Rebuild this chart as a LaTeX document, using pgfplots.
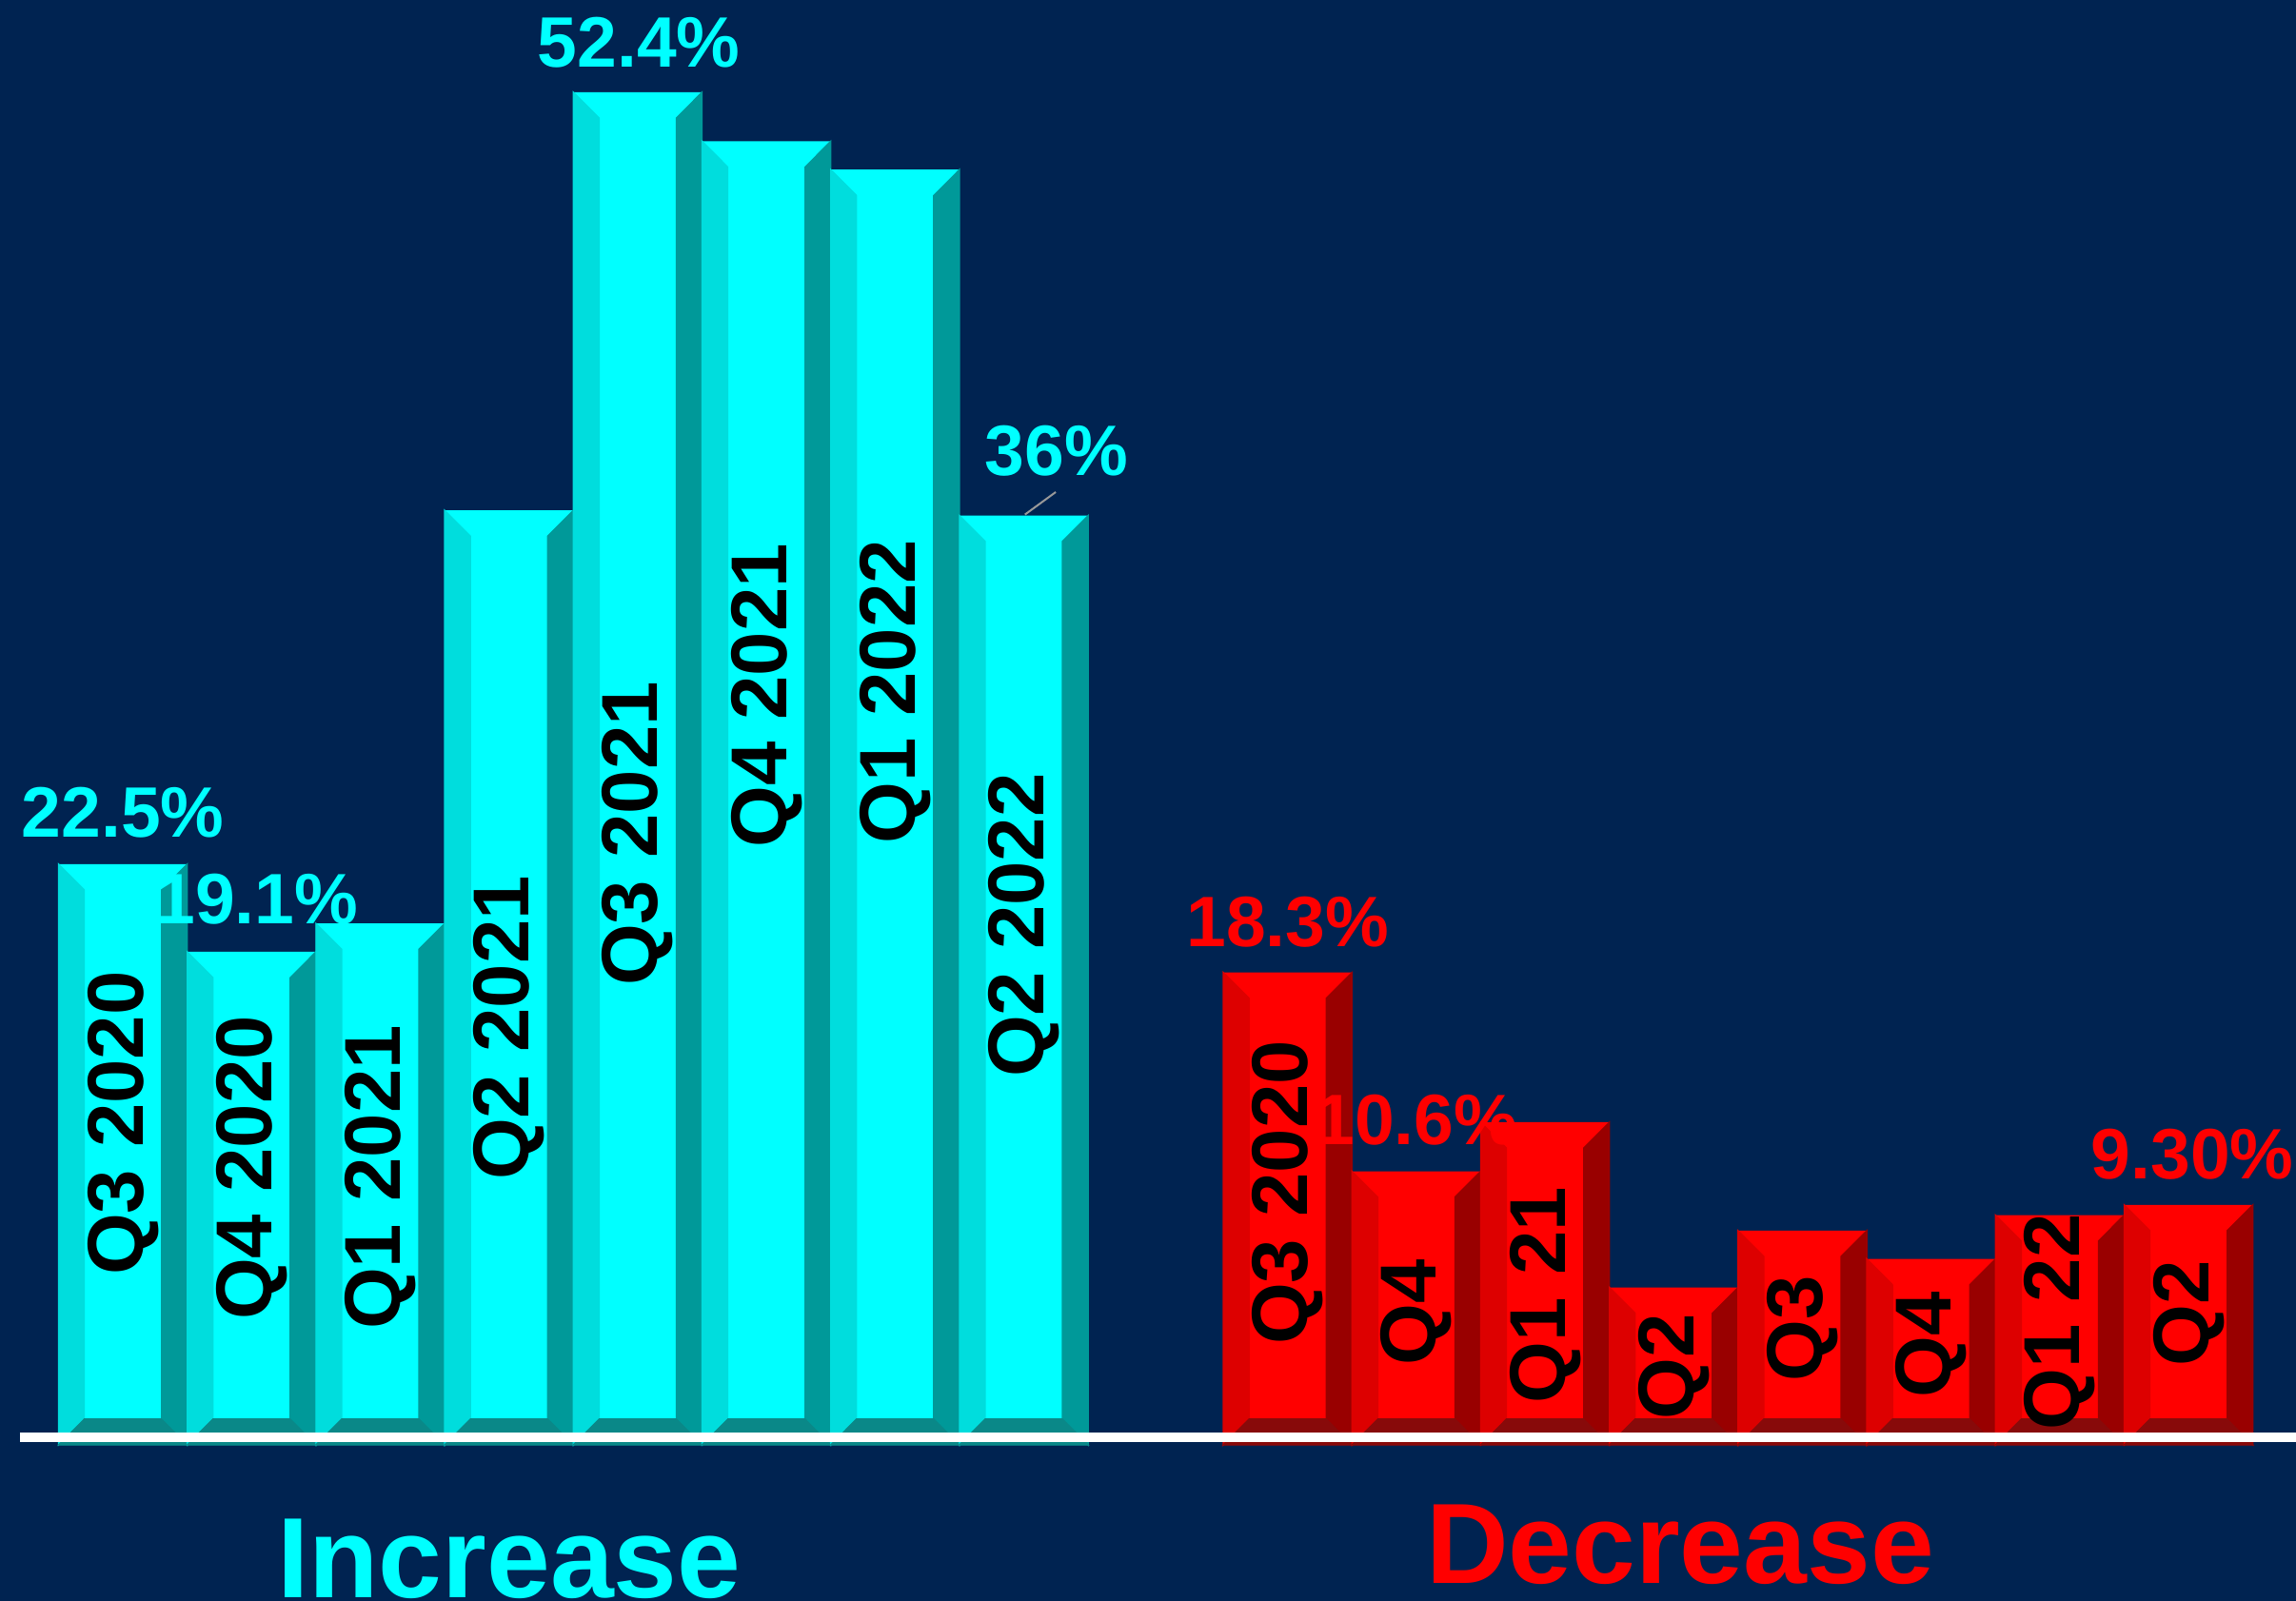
\documentclass[border=0pt]{standalone}
\usepackage{pgfplots}
\pgfplotsset{compat=1.18}
\usepackage{pgfplotstable}
\usepackage{fontspec}
\setmainfont{Liberation Sans}
\definecolor{bgblue}{RGB}{0,35,81}
\definecolor{cyF}{RGB}{0,255,255}
\definecolor{cyL}{RGB}{0,221,221}
\definecolor{cyR}{RGB}{0,153,153}
\definecolor{cyB}{RGB}{10,136,136}
\definecolor{rdF}{RGB}{255,0,0}
\definecolor{rdL}{RGB}{221,0,0}
\definecolor{rdR}{RGB}{153,0,0}
\definecolor{rdB}{RGB}{136,10,10}

\pgfdeclareplotmark{nothing}{}

\pgfplotstableread{
x y
0 22.5
1 19.1
2 20.2
3 36.2
4 52.4
5 50.5
6 49.4
7 36.0
}\inctable

\pgfplotstableread{
x y
9.05 18.3
10.05 10.6
11.05 12.5
12.05 6.1
13.05 8.3
14.05 7.2
15.05 8.9
16.05 9.3
}\dectable

\pgfplotsset{
  bevel/.style n args={3}{
    scatter, only marks, mark=nothing, point meta=y,
    visualization depends on={rawy \as \bv},
    scatter/@pre marker code/.code={%
      \pgfmathsetmacro\hA{-\bv*8.136}%
      \pgfmathsetmacro\hB{\hA+8.136}%
      \fill[#1] (-20.28pt,0pt) -- (-12.168pt,-8.136pt) -- (-12.168pt,\hB pt) -- (-20.28pt,\hA pt) -- cycle;
      \fill[#2] (20.28pt,0pt) -- (12.168pt,-8.136pt) -- (12.168pt,\hB pt) -- (20.28pt,\hA pt) -- cycle;
      \fill[#3] (-20.28pt,\hA pt) -- (-12.168pt,\hB pt) -- (12.168pt,\hB pt) -- (20.28pt,\hA pt) -- cycle;
      \scope
    },
    scatter/@post marker code/.code={\endscope},
  }
}

\newcommand\inlab[3]{\node[rotate=90, inner sep=0pt, text=black, font=\fontsize{25}{30}\selectfont\bfseries] at (axis cs:#1,#2) {#3};}
\newcommand\vlab[4]{\node[anchor=base, inner sep=0pt, text=#4, font=\fontsize{22.5}{27}\selectfont\bfseries] at (axis cs:#1,#2) {#3};}
\newcommand\biglab[4]{\node[anchor=base, inner sep=0pt, text=#4, font=\fontsize{36}{40}\selectfont\bfseries] at (axis cs:#1,#2) {#3};}

\begin{document}
\begin{tikzpicture}
\begin{axis}[
  set layers,
  x=40.56pt, y=8.136pt,
  xmin=-0.955, xmax=16.885, ymin=-6.047, ymax=55.973,
  axis lines=box, axis line style={draw=none},
  xtick=\empty, ytick=\empty,
  axis background/.style={fill=bgblue},
  clip=false,
]
\addplot[ybar, bar width=1, bar shift=0, fill=cyF, draw=none] table[x=x,y=y]{\inctable};
\addplot[bevel={cyL}{cyR}{cyB}] table[x=x,y=y]{\inctable};
\addplot[ybar, bar width=1, bar shift=0, fill=rdF, draw=none] table[x=x,y=y]{\dectable};
\addplot[bevel={rdL}{rdR}{rdB}] table[x=x,y=y]{\dectable};

\addplot[on layer=axis foreground, white, line width=3pt] coordinates {(-0.80,0.295) (16.885,0.295)};
\addplot[on layer=axis foreground, gray!80, line width=0.6pt] coordinates {(7.248,36.91) (7.009,36.04)};

\begin{pgfonlayer}{axis foreground}
\inlab{0}{12.46}{Q3 2020}
\inlab{1}{10.73}{Q4 2020}
\inlab{2}{10.36}{Q1 2021}
\inlab{3}{16.15}{Q2 2021}
\inlab{4}{23.67}{Q3 2021}
\inlab{5}{29.02}{Q4 2021}
\inlab{6}{29.17}{Q1 2022}
\inlab{7}{20.13}{Q2 2022}

\inlab{9.05}{9.77}{Q3 2020}
\inlab{10.05}{5.13}{Q4}
\inlab{11.05}{5.80}{Q1 21}
\inlab{12.05}{3.03}{Q2}
\inlab{13.05}{4.51}{Q3}
\inlab{14.05}{3.89}{Q4}
\inlab{15.05}{4.76}{Q1 22}
\inlab{16.05}{5.10}{Q2}

\vlab{0}{23.56}{22.5\%}{cyF}
\vlab{1.04}{20.2}{19.1\%}{cyF}
\vlab{4.01}{53.36}{52.4\%}{cyF}
\vlab{7.255}{37.54}{36\%}{cyF}
\vlab{9.05}{19.31}{18.3\%}{rdF}
\vlab{10.05}{11.64}{10.6\%}{rdF}
\vlab{16.08}{10.30}{9.30\%}{rdF}

\biglab{3.0}{-5.90}{Increase}{cyF}
\biglab{12.10}{-5.35}{Decrease}{rdF}
\end{pgfonlayer}
\end{axis}
\pgfresetboundingbox
\useasboundingbox (current axis.south west) rectangle (current axis.north east);
\end{tikzpicture}
\end{document}
